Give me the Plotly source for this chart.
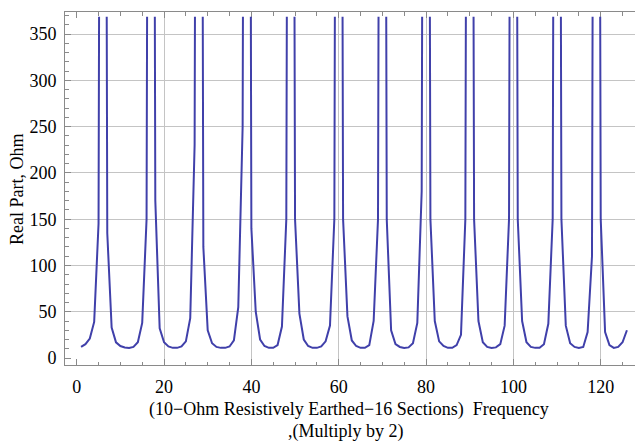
import plotly.graph_objects as go

# ---- data ----
freq = list(range(1, 127))
real_part = [
    12, 15, 21, 39, 145, 2000, 135, 33, 17, 13,          # 1-10
    11.5, 11, 12, 17, 38, 150, 2000, 170, 32, 17,        # 11-20
    12.5, 11, 11, 12.5, 18, 43, 230, 2000, 120, 30,      # 21-30
    16, 12, 11, 11, 12.5, 19, 55, 250, 2000, 140,        # 31-40
    50, 20, 13, 11, 11, 14, 34, 150, 2000, 150,          # 41-50
    48, 20, 13, 11, 11, 12.5, 18, 35, 150, 2000,         # 51-60
    150, 45, 19, 13, 11, 11, 14, 40, 150, 2000,          # 61-70
    150, 30, 15, 12, 11, 11.5, 16, 38, 180, 2000,        # 71-80
    150, 40, 18, 13, 11, 11, 14, 25, 150, 2000,          # 81-90
    150, 40, 17, 12, 11, 11.5, 15, 35, 150, 2000,        # 91-100
    150, 40, 17, 12, 11, 11, 15, 37, 150, 2000,          # 101-110
    150, 35, 16, 12, 11, 12, 28, 110, 2000, 150,         # 111-120
    28, 14, 11, 12, 17, 30,                              # 121-126
]
x_ticks = [0, 20, 40, 60, 80, 100, 120]
y_ticks = [0, 50, 100, 150, 200, 250, 300, 350]
x_grid = [20, 40, 60, 80, 100, 120]
y_grid = [50, 100, 150, 200, 250, 300, 350]
y_title = "Real Part, Ohm"
x_title_1 = "(10\u2212Ohm Resistively Earthed\u221216 Sections)  Frequency"
x_title_2 = ",(Multiply by 2)"

# ---- layout constants ----
W, H = 635, 442
ML, MR, MT, MB = 65, 0, 12, 77
PLOT_H = H - MT - MB
CLIP_TOP_PX = 16.7
D1 = (H - MB - CLIP_TOP_PX) / PLOT_H  # data domain top
X_RANGE = [-2.68, 127.85]
Y_RANGE_FRAME = [-7.5, 373.9]
Y_RANGE_DATA = [-7.5, 368.6]

LINE_COLOR = "rgb(64,64,170)"
FRAME = "#8a8a8a"
GRID = "#c4c4c4"
FONT = "Liberation Serif"
FS = 18

fig = go.Figure()
# empty traces so that the frame and grid subplots get drawn
fig.add_trace(go.Scatter(x=[None], y=[None], xaxis="x", yaxis="y",
                         mode="lines", hoverinfo="skip", showlegend=False))
fig.add_trace(go.Scatter(x=[None], y=[None], xaxis="x3", yaxis="y3",
                         mode="lines", hoverinfo="skip", showlegend=False))
fig.add_trace(go.Scatter(
    x=freq, y=real_part, mode="lines", xaxis="x2", yaxis="y2",
    line=dict(color=LINE_COLOR, width=2), hoverinfo="skip", showlegend=False,
))

fig.update_layout(
    width=W, height=H,
    margin=dict(l=ML, r=MR, t=MT, b=MB, pad=0),
    paper_bgcolor="white", plot_bgcolor="rgba(0,0,0,0)",
    showlegend=False,
    font=dict(family=FONT, size=FS, color="black"),
    # frame axes (ticks + labels)
    xaxis=dict(
        domain=[0, 1], range=X_RANGE, anchor="y",
        tickmode="array", tickvals=x_ticks,
        ticks="inside", ticklen=6, tickcolor=FRAME, tickwidth=1,
        minor=dict(tickmode="linear", tick0=0, dtick=5, ticks="inside",
                   ticklen=3.5, tickcolor=FRAME),
        showline=True, linecolor=FRAME, linewidth=1, mirror="ticks",
        showgrid=False, zeroline=False,
        tickfont=dict(family=FONT, size=FS, color="black"),
        ticklabelstandoff=5,
    ),
    yaxis=dict(
        domain=[0, 1], range=Y_RANGE_FRAME, anchor="x",
        tickmode="array", tickvals=y_ticks,
        ticks="inside", ticklen=6, tickcolor=FRAME, tickwidth=1,
        minor=dict(tickmode="linear", tick0=0, dtick=10, ticks="inside",
                   ticklen=3.5, tickcolor=FRAME),
        showline=True, linecolor=FRAME, linewidth=1, mirror=False,
        showgrid=False, zeroline=False,
        tickfont=dict(family=FONT, size=FS, color="black"),
        ticklabelstandoff=4,
    ),
    # grid-only overlay axes
    xaxis3=dict(
        overlaying="x", anchor="y3", range=X_RANGE,
        tickmode="array", tickvals=x_grid, showticklabels=False, ticks="",
        showgrid=True, gridcolor=GRID, gridwidth=1,
        showline=False, zeroline=False,
    ),
    yaxis3=dict(
        overlaying="y", anchor="x3", range=Y_RANGE_FRAME,
        tickmode="array", tickvals=y_grid, showticklabels=False, ticks="",
        showgrid=True, gridcolor=GRID, gridwidth=1,
        showline=False, zeroline=False,
    ),
    # data axes (hidden), clipped at the plot range
    xaxis2=dict(
        domain=[0, 1], range=X_RANGE, anchor="y2",
        visible=False, showgrid=False, zeroline=False,
    ),
    yaxis2=dict(
        domain=[0, D1], range=Y_RANGE_DATA, anchor="x2",
        visible=False, showgrid=False, zeroline=False,
    ),
)

fig.add_annotation(
    text=y_title, xref="paper", yref="paper",
    x=(17 - ML) / (W - ML - MR), y=(H - MB - 190) / PLOT_H,
    textangle=-90, showarrow=False, xanchor="center", yanchor="middle",
    font=dict(family=FONT, size=FS, color="black"),
)
fig.add_annotation(
    text=x_title_1, xref="paper", yref="paper",
    x=(348.5 - ML) / (W - ML - MR), y=(H - MB - 409) / PLOT_H,
    showarrow=False, xanchor="center", yanchor="middle",
    font=dict(family=FONT, size=FS, color="black"),
)
fig.add_annotation(
    text=x_title_2, xref="paper", yref="paper",
    x=(345.5 - ML) / (W - ML - MR), y=(H - MB - 432) / PLOT_H,
    showarrow=False, xanchor="center", yanchor="middle",
    font=dict(family=FONT, size=FS, color="black"),
)

fig.write_html("out.html")
